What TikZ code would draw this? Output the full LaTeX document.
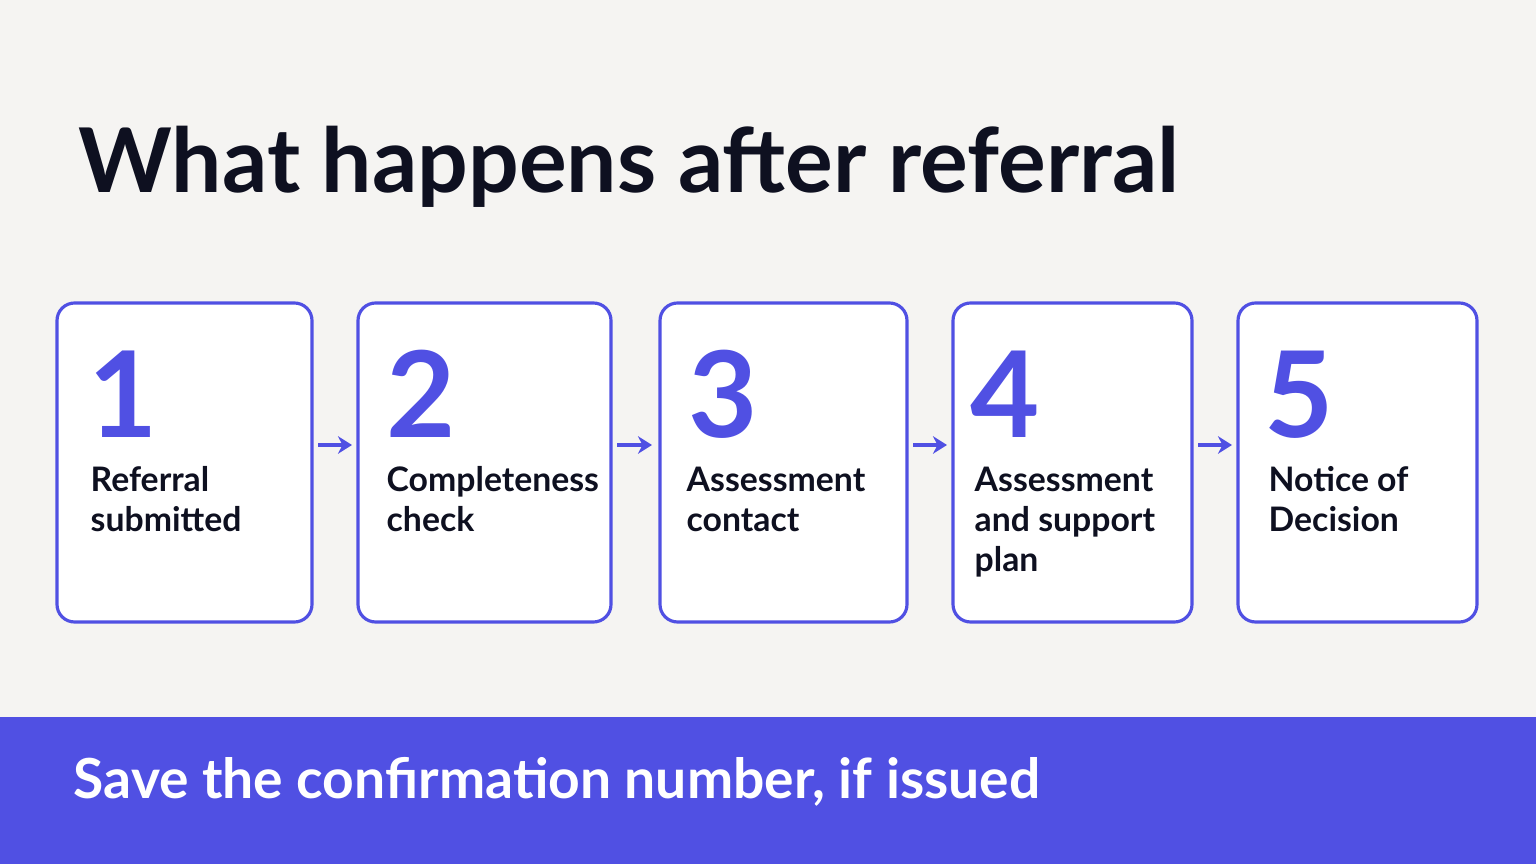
\documentclass[tikz,border=0pt]{standalone}
\usepackage{fontspec}
\setmainfont{Lato}
\usetikzlibrary{positioning,arrows.meta}
\definecolor{bgcol}{HTML}{F5F4F2}
\definecolor{accent}{HTML}{5050E3}
\definecolor{ink}{HTML}{0E1020}
\tikzset{
  stagebox/.style={draw=accent, line width=0.9pt, rounded corners=5pt, fill=white},
  num/.style={anchor=base west, text=accent, font=\fontsize{34}{34}\selectfont\bfseries, inner sep=0pt},
  lbl/.style={anchor=north west, text=ink, align=left, inner sep=0pt, font=\fontsize{9.6}{11.4}\selectfont\bfseries},
  link/.style={draw=accent, line width=1.2pt, -{Stealth[length=4pt,width=5pt]}}
}
\begin{document}
\begin{tikzpicture}[x=0.01cm,y=-0.01cm]
\fill[bgcol] (0,0) rectangle (1536,864);
\fill[accent] (0,717) rectangle (1536,864);

\node[anchor=base west, inner sep=0pt, text=ink, font=\fontsize{25.4}{26}\selectfont\bfseries] (title) at (78,193) {What happens after referral};

\draw[stagebox] (57,303) rectangle (312,622);
\draw[stagebox] (358,303) rectangle (611,622);
\draw[stagebox] (660,303) rectangle (907,622);
\draw[stagebox] (953,303) rectangle (1192,622);
\draw[stagebox] (1238,303) rectangle (1477,622);

\node[num] (n1) at (88,438) {1};
\node[num] (n2) at (386,438) {2};
\node[num] (n3) at (688,438) {3};
\node[num] (n4) at (970,438) {4};
\node[num] (n5) at (1264,438) {5};

\node[lbl] (t1) at (90,466) {Referral\\submitted};
\node[lbl] (t2) at (386,466) {Completeness\\check};
\node[lbl] (t3) at (686,466) {Assessment\\contact};
\node[lbl] (t4) at (974,466) {Assessment\\and support\\plan};
\node[lbl] (t5) at (1268,466) {Notice of\\Decision};

\coordinate (a1) at (318,445); \coordinate (b1) at (352,445);
\coordinate (a2) at (617,445); \coordinate (b2) at (652,445);
\coordinate (a3) at (913,445); \coordinate (b3) at (947,445);
\coordinate (a4) at (1198,445); \coordinate (b4) at (1232,445);
\foreach \i in {1,...,4}
{
\draw[link] (a\i) -- (b\i);
}

\node[anchor=base west, inner sep=0pt, text=white, font=\fontsize{15.7}{16}\selectfont\bfseries] (note) at (73,798) {Save the confirmation number, if issued};
\end{tikzpicture}
\end{document}
